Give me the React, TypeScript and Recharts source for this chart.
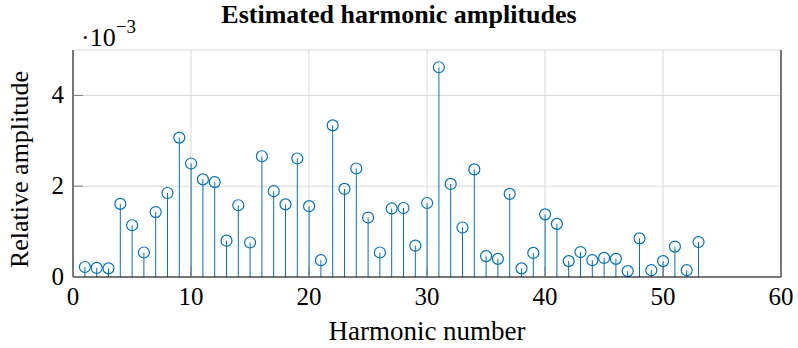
import React from 'react';
import { Bar, CartesianGrid, ComposedChart, XAxis, YAxis } from 'recharts';

// harmonic index and estimated relative amplitude (in units of 1e-3)
const harmonics = [
  1, 2, 3, 4, 5, 6, 7, 8, 9, 10, 11, 12, 13, 14, 15, 16, 17, 18, 19, 20, 21, 22, 23, 24, 25, 26,
  27, 28, 29, 30, 31, 32, 33, 34, 35, 36, 37, 38, 39, 40, 41, 42, 43, 44, 45, 46, 47, 48, 49, 50,
  51, 52, 53,
];
const amplitudes = [
  0.22, 0.2, 0.19, 1.61, 1.14, 0.54, 1.43, 1.85, 3.07, 2.5, 2.15, 2.09, 0.8, 1.58, 0.76, 2.66, 1.89,
  1.6, 2.61, 1.56, 0.37, 3.34, 1.94, 2.39, 1.31, 0.54, 1.51, 1.52, 0.69, 1.63, 4.62, 2.05, 1.09,
  2.37, 0.46, 0.4, 1.83, 0.19, 0.53, 1.38, 1.17, 0.35, 0.55, 0.37, 0.42, 0.4, 0.13, 0.85, 0.15, 0.35,
  0.67, 0.15, 0.77,
];
const xTicks = [0, 10, 20, 30, 40, 50, 60];
const yTicks = [0, 2, 4];

const data = harmonics.map((h, i) => ({ h, amp: amplitudes[i] }));

const FONT = '"Liberation Serif", "DejaVu Serif", serif';
const BLUE = '#0072bd';
const TICK = '#7f7f7f';

const Stem = (props: any) => {
  const { x, y, width, height } = props;
  const cx = x + width / 2;
  return (
    <g>
      <line x1={cx} y1={y + height} x2={cx} y2={y} stroke={BLUE} strokeWidth={1} />
      <circle cx={cx} cy={y} r={5.5} fill="none" stroke={BLUE} strokeWidth={1.2} />
    </g>
  );
};

const BottomTick = (props: any) => {
  const { x, y, payload } = props;
  return (
    <g>
      <line x1={x} y1={y} x2={x} y2={y - 10} stroke={TICK} strokeWidth={1} />
      <text x={x} y={y + 28} textAnchor="middle" style={{ fontFamily: FONT, fontSize: 25 }} fill="#000">
        {payload.value}
      </text>
    </g>
  );
};

const TopTick = (props: any) => {
  const { x, y } = props;
  return <line x1={x} y1={y} x2={x} y2={y + 10} stroke={TICK} strokeWidth={1} />;
};

const LeftTick = (props: any) => {
  const { x, y, payload } = props;
  return (
    <g>
      <line x1={x} y1={y} x2={x + 10} y2={y} stroke={TICK} strokeWidth={1} />
      <text x={x - 9} y={y + 8} textAnchor="end" style={{ fontFamily: FONT, fontSize: 25 }} fill="#000">
        {payload.value}
      </text>
    </g>
  );
};

const RightTick = (props: any) => {
  const { x, y } = props;
  return <line x1={x} y1={y} x2={x - 10} y2={y} stroke={TICK} strokeWidth={1} />;
};

export default function App() {
  return (
    <div style={{ position: 'absolute', left: 0, top: 0, width: 798, height: 348, background: '#fff' }}>
      <div
        style={{
          position: 'absolute',
          left: 0,
          width: 798,
          top: 1,
          textAlign: 'center',
          fontFamily: FONT,
          fontWeight: 'bold',
          fontSize: 26,
          lineHeight: '27px',
        }}
      >
        Estimated harmonic amplitudes
      </div>
      <div style={{ position: 'absolute', left: 81, top: 16, fontFamily: FONT, fontSize: 26, lineHeight: '28px' }}>
        ·10<sup style={{ fontSize: 19, position: 'relative', top: -3 }}>−3</sup>
      </div>
      <ComposedChart
        width={798}
        height={348}
        data={data}
        margin={{ top: 50, right: 0, bottom: 0, left: 0 }}
        style={{ position: 'absolute', left: 0, top: 0 }}
      >
        <CartesianGrid stroke="#d9d9d9" strokeWidth={1} />
        <XAxis
          dataKey="h"
          type="number"
          domain={[0, 60]}
          ticks={xTicks}
          height={71}
          tickSize={0}
          tickMargin={0}
          tickLine={false}
          axisLine={{ stroke: '#000', strokeWidth: 1 }}
          tick={<BottomTick />}
          interval={0}
          label={{
            value: 'Harmonic number',
            position: 'insideBottom',
            offset: 8,
            fill: '#000',
            style: { fontFamily: FONT, fontSize: 27 },
          }}
        />
        <XAxis
          xAxisId="top"
          orientation="top"
          dataKey="h"
          type="number"
          domain={[0, 60]}
          ticks={xTicks}
          height={0}
          tickSize={0}
          tickMargin={0}
          tickLine={false}
          axisLine={{ stroke: '#000', strokeWidth: 1 }}
          tick={<TopTick />}
          interval={0}
        />
        <YAxis
          type="number"
          domain={[0, 5]}
          ticks={yTicks}
          width={73}
          tickSize={0}
          tickMargin={0}
          tickLine={false}
          axisLine={{ stroke: '#000', strokeWidth: 1 }}
          tick={<LeftTick />}
          interval={0}
          label={{
            value: 'Relative amplitude',
            angle: -90,
            position: 'insideLeft',
            offset: 0,
            dx: 19,
            dy: 6,
            fill: '#000',
            style: { textAnchor: 'middle', fontFamily: FONT, fontSize: 26 },
          }}
        />
        <YAxis
          yAxisId="right"
          orientation="right"
          type="number"
          domain={[0, 5]}
          ticks={yTicks}
          width={17}
          tickSize={0}
          tickMargin={0}
          tickLine={false}
          axisLine={{ stroke: '#000', strokeWidth: 1 }}
          tick={<RightTick />}
          interval={0}
        />
        <Bar dataKey="amp" barSize={2} shape={<Stem />} isAnimationActive={false} />
      </ComposedChart>
    </div>
  );
}
